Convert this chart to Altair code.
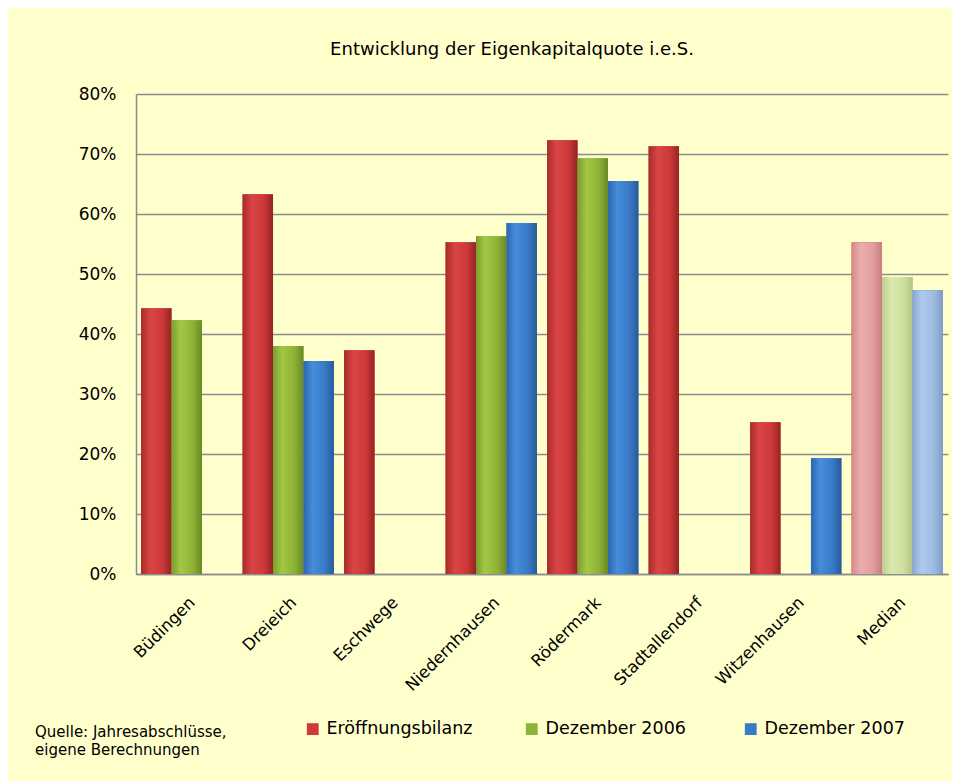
import altair as alt
import pandas as pd

kommunen = ["Büdingen", "Dreieich", "Eschwege", "Niedernhausen", "Rödermark",
            "Stadtallendorf", "Witzenhausen", "Median"]
serien = ["Eröffnungsbilanz", "Dezember 2006", "Dezember 2007"]
eroeffnung = [0.443, 0.633, 0.373, 0.553, 0.723, 0.713, 0.253, 0.553]
dez2006 = [0.423, 0.380, None, 0.563, 0.693, None, None, 0.495]
dez2007 = [None, 0.355, None, 0.585, 0.655, None, 0.193, 0.473]
quelle_zeilen = ["Quelle: Jahresabschlüsse,", "eigene Berechnungen"]
titel = "Entwicklung der Eigenkapitalquote i.e.S."

solid = ["#CF3A3A", "#8DB33A", "#3A7BC8"]
grad_normal = {
    "Eröffnungsbilanz": ["#A82B2B", "#DA4444", "#CC3939", "#962323"],
    "Dezember 2006": ["#7A9E2E", "#A2C844", "#8DB236", "#6A8923"],
    "Dezember 2007": ["#2C66AE", "#458DDC", "#3A7AC6", "#275A99"],
}
grad_median = {
    "Eröffnungsbilanz": ["#D48888", "#EDAEAE", "#E39E9E", "#C97E7E"],
    "Dezember 2006": ["#BBCF8A", "#DAE8B0", "#CFDF9F", "#B1C582"],
    "Dezember 2007": ["#88A7D3", "#B0CAEC", "#9EBBE2", "#809CC7"],
}

rows = []
for s, vals in zip(serien, [eroeffnung, dez2006, dez2007]):
    for k, v in zip(kommunen, vals):
        if v is not None:
            rows.append({"Kommune": k, "Serie": s, "Wert": v, "Median": k == "Median"})
df = pd.DataFrame(rows)

FONT = "DejaVu Sans"

x_enc = alt.X("Kommune:N",
              scale=alt.Scale(domain=kommunen, paddingInner=0.1, paddingOuter=0.05),
              axis=alt.Axis(title=None, labelAngle=-45, labelFontSize=16.5, labelFont=FONT,
                            labelColor="black", ticks=False, domainColor="#8c8c8c",
                            domainWidth=1.5, labelPadding=20, grid=False))
xo_enc = alt.XOffset("Serie:N", scale=alt.Scale(domain=serien, paddingInner=0, paddingOuter=0))
y_enc = alt.Y("Wert:Q",
              scale=alt.Scale(domain=[0, 0.8]),
              axis=alt.Axis(title=None, format=".0%", tickCount=8, labelFontSize=17,
                            labelFont=FONT, labelColor="black", ticks=False,
                            labelPadding=20, gridColor="#8c8c8c", gridWidth=1.5,
                            domainColor="#8c8c8c", domainWidth=1.5))

base = alt.Chart(df).mark_bar().encode(
    x=x_enc, xOffset=xo_enc, y=y_enc,
    color=alt.Color("Serie:N", scale=alt.Scale(domain=serien, range=solid),
                    legend=alt.Legend(title=None, orient="none", legendX=168, legendY=626,
                                      direction="horizontal", symbolType="square",
                                      symbolSize=140, symbolStrokeWidth=0,
                                      labelFontSize=17.5, labelFont=FONT, labelColor="black",
                                      columnPadding=50, gridAlign="all", labelOffset=5)),
)


def grad(cols):
    return alt.LinearGradient(
        gradient="linear", x1=0, x2=1, y1=0, y2=0,
        stops=[alt.GradientStop(offset=0, color=cols[0]),
               alt.GradientStop(offset=0.3, color=cols[1]),
               alt.GradientStop(offset=0.7, color=cols[2]),
               alt.GradientStop(offset=1, color=cols[3])])


layers = [base]
for s in serien:
    for med, gd in [(False, grad_normal), (True, grad_median)]:
        sub = df[(df["Serie"] == s) & (df["Median"] == med)]
        if len(sub) == 0:
            continue
        layers.append(alt.Chart(sub).mark_bar(fill=grad(gd[s])).encode(
            x=x_enc, xOffset=xo_enc, y=y_enc))

quelle = alt.Chart(pd.DataFrame({"q": [0]})).mark_text(
    align="left", baseline="middle", fontSize=15, font=FONT, color="black", lineHeight=18
).encode(x=alt.value(-101), y=alt.value(638), text=alt.value(quelle_zeilen))
layers.append(quelle)

chart = alt.layer(*layers).properties(
    width=812, height=480,
    autosize=alt.AutoSizeParams(type="none"),
    padding={"left": 128, "top": 86, "right": 4, "bottom": 207},
    background="#FFFFCC",
    title=alt.TitleParams(titel, fontSize=18, fontWeight="normal", font=FONT, color="black",
                          anchor="middle", frame="group", offset=26, dx=-30),
).configure_view(strokeWidth=0)

chart.save("out.html", embed_options={"renderer": "svg", "actions": False})
